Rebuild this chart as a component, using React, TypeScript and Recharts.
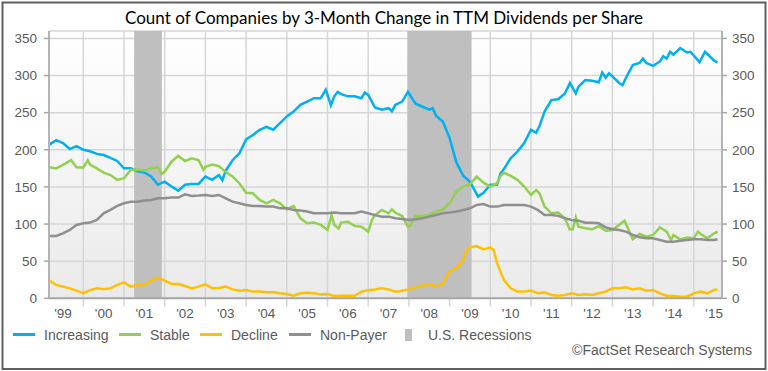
import React from 'react';
import { LineChart, Line, XAxis, YAxis, CartesianGrid, ReferenceArea, ReferenceLine } from 'recharts';

// Months counted from Jan 1999 (0 = Jan 1999), value = count of companies
const increasing: [number, number][] = [
  [2, 207], [4, 213], [6, 209], [8, 201], [10, 205], [12, 200], [14, 198], [16, 194.5], [18, 193], [20, 189],
  [22, 185], [24, 175], [26, 175], [28, 171], [30, 169.5], [32, 164], [34, 153], [36, 157], [38, 150.5], [40, 145],
  [42, 153], [44, 154], [46, 154], [48, 164], [50, 159.5], [52, 166], [53, 159], [54, 172], [56, 186], [58, 195],
  [60, 214], [62, 220], [64, 227], [66, 231], [68, 227], [70, 236], [72, 245], [74, 251.5], [76, 260.5], [78, 265],
  [80, 269.5], [82, 269.5], [83.5, 281], [85, 260], [86, 272], [87, 278], [88, 275], [90, 272], [92, 272], [94, 269.5],
  [95, 277], [96, 274], [98, 257], [100, 254], [102, 256], [103, 252], [104, 260.5], [106, 265], [107.7, 278], [110, 262],
  [112, 258], [114, 254], [115, 256], [116, 246], [118, 238], [120, 216], [122, 183], [124, 165], [126, 157], [128.4, 137],
  [130, 142], [132, 153], [134, 153], [135, 168], [136, 174], [138, 188.6], [140, 197.6], [142, 209], [144, 227], [145.5, 223],
  [146.5, 232], [148, 251.5], [150, 267], [152, 268], [154, 276], [155.5, 290], [157.2, 276], [158, 285], [160, 294], [162, 293],
  [164, 291], [165, 304], [166, 297], [167, 303], [168, 299], [170, 290], [171, 287], [172, 297], [174, 314], [176, 317],
  [177, 323], [178, 317], [180, 313], [182, 319], [183, 326], [184, 323], [185, 332], [186, 328], [188, 337], [190, 331],
  [191, 332], [192, 327], [193.7, 318], [195.3, 332], [196, 329], [198, 320], [199, 317.6],
];

const stable: [number, number][] = [
  [2, 176.5], [4, 175], [6, 179.6], [8.4, 186], [10, 176.5], [12, 176], [13.3, 186], [14, 180], [16, 175], [18, 169.3],
  [20, 166], [22, 159.5], [24, 161.7], [26, 173], [28, 173], [30, 172], [32, 175], [34, 176.5], [35.1, 167.5], [36, 170.6],
  [38, 184], [40, 191.8], [42, 184.9], [44, 188.6], [46, 186], [47.4, 173], [48, 177], [50, 180], [52, 178], [54, 170],
  [56, 164], [58, 155], [60, 142], [62, 141.4], [64, 132.5], [66, 128], [68, 132.5], [70, 128], [72, 119.8], [74, 124.4],
  [76, 107.7], [78, 101], [80, 102], [82, 98.8], [84, 92], [85.2, 112], [86, 98.8], [87.3, 94], [88, 102], [90, 103],
  [92, 97.5], [94, 96.5], [96, 89.8], [97.1, 105.5], [98, 112], [100, 119], [102, 114.5], [103, 119.8], [104, 115.4], [106, 111],
  [107.7, 96.5], [108.3, 97.5], [110, 111], [112, 111], [114, 112.3], [116, 116.8], [118, 119.8], [120, 128], [122, 143.7], [124, 150.5],
  [126, 153.6], [128, 163.9], [130, 155.8], [132, 150.5], [134, 155], [135, 164.8], [136, 169.3], [138, 164.8], [140, 159.5], [142, 150.5],
  [144, 139.2], [145.5, 146], [146.5, 141.4], [148, 123.5], [150, 114.5], [152, 115.4], [154, 107.7], [155.4, 92.9], [156.3, 92.9], [157.2, 109],
  [158, 96.5], [160, 94.3], [162, 92.9], [164, 97], [166, 91.1], [168, 92], [170, 99], [171.6, 104.6], [172.5, 95], [174, 79.4],
  [176, 86.6], [178, 83], [180, 85.3], [182, 95.6], [184, 89.8], [185.3, 78.5], [186, 85.3], [188, 79.4], [190, 82], [192, 80.8],
  [193.2, 89.8], [194, 86.6], [196, 80.8], [198, 87.5], [199, 89.8],
];

const decline: [number, number][] = [
  [2, 23.8], [4, 18], [6, 15.7], [8, 13.4], [10, 10.3], [12, 7], [14, 11], [16, 13.4], [18, 12.1], [20, 13.4],
  [22, 18], [24, 21.5], [26, 15.7], [28, 18], [30, 18], [32, 23.8], [34, 27.8], [36, 23.8], [38, 19.3], [40, 19.3],
  [42, 16.6], [44, 13.4], [46, 15.7], [48, 18.8], [50, 13.4], [52, 14], [54, 15.7], [56, 12], [58, 10.3], [60, 11.2],
  [62, 9], [64, 9], [66, 8], [68, 8], [70, 6.7], [72, 5.8], [74, 3.5], [76, 6.7], [78, 7.6], [80, 6.7],
  [82, 5.3], [84, 5.8], [86, 3.1], [88, 3.5], [90, 3.5], [92, 3.5], [94, 9], [96, 11], [98, 12], [100, 13.4],
  [102, 12], [104, 9], [106, 10.3], [108, 12], [110, 14.7], [112, 16.6], [114, 19.3], [116, 15.7], [118, 20.2], [120, 35.9],
  [122, 40.4], [124, 51.6], [125, 65], [126, 68.6], [128, 70.4], [130, 65.9], [132, 68.6], [133, 65], [134, 47], [136, 24.7],
  [138, 13.4], [140, 9], [142, 9], [144, 10.3], [146, 6.7], [148, 8], [150, 4.4], [152, 3.5], [154, 4.4], [156, 6.7],
  [158, 4.4], [160, 5.3], [162, 4.4], [164, 6.7], [166, 9], [168, 13.4], [170, 13.4], [172, 14.7], [174, 12], [176, 13.4],
  [178, 10.3], [180, 11.2], [182, 6.7], [184, 3.5], [186, 3.1], [188, 2.2], [190, 2.2], [192, 6.7], [194, 9], [196, 6.7],
  [198, 11.2], [199, 12],
];

const nonPayer: [number, number][] = [
  [2, 84], [4, 84], [6, 87.5], [8, 92], [10, 98.8], [12, 101], [14, 102], [16, 105.5], [18, 114.5], [20, 119],
  [22, 124.4], [24, 128], [26, 130], [28, 130], [30, 131.6], [32, 132.5], [34, 134.7], [36, 134.7], [38, 135.6], [40, 135.6],
  [42, 140], [44, 137.9], [46, 138.4], [48, 139.2], [50, 137.9], [52, 139.2], [54, 134.7], [56, 130.2], [58, 128], [60, 125.7],
  [62, 124.4], [64, 124.4], [66, 123.5], [68, 123.5], [70, 121.2], [72, 121.2], [74, 119], [76, 118.1], [78, 116.8], [80, 114.5],
  [82, 114.5], [84, 114.5], [86, 115.4], [88, 114.5], [90, 114.5], [92, 114.5], [94, 116.8], [96, 114.5], [98, 112], [100, 110],
  [102, 110], [104, 107.7], [106, 106.8], [108, 105.5], [110, 106.4], [112, 107.7], [114, 110], [116, 112.3], [118, 114.5], [120, 115.4],
  [122, 116.8], [124, 119], [126, 121.2], [128, 125.7], [130, 127], [132, 123.5], [134, 123.5], [136, 125.7], [138, 125.7], [140, 125.7],
  [142, 125.7], [144, 123.5], [146, 119], [148, 112.3], [150, 112.3], [152, 111], [154, 107.7], [156, 105.5], [158, 104.6], [160, 101.9],
  [162, 101.9], [164, 101], [166, 95.6], [168, 92.9], [170, 92], [172, 89.8], [174, 85.3], [176, 82.2], [178, 80.8], [180, 80.8],
  [182, 78.5], [184, 76.3], [186, 76.3], [188, 77.6], [190, 78.5], [192, 79.4], [194, 79.4], [196, 78.5], [198, 78.5], [199, 79.4],
];

const yearLabels = ["'99", "'00", "'01", "'02", "'03", "'04", "'05", "'06", "'07", "'08", "'09", "'10", "'11", "'12", "'13", "'14", "'15"];
const labelYears = [1999.5, 2000.5, 2001.5, 2002.5, 2003.5, 2004.5, 2005.5, 2006.5, 2007.5, 2008.5, 2009.5, 2010.5, 2011.5, 2012.5, 2013.5, 2014.5, 2015.5];
const gridYears = [2000, 2001, 2002, 2003, 2004, 2005, 2006, 2007, 2008, 2009, 2010, 2011, 2012, 2013, 2014, 2015];
const yTicks = [0, 50, 100, 150, 200, 250, 300, 350];
const recessions: [number, number][] = [[2001.25, 2001.93], [2007.96, 2009.54]];

const START_YEAR = 1999;
const toPoints = (pairs: [number, number][]) => pairs.map(([m, v]) => ({ t: START_YEAR + m / 12, v }));

const FONT = '"Liberation Sans", Arial, sans-serif';
const LABEL = '#595959';
const GRID = '#d6d6d6';
const AXIS = '#a6a6a6';

const series = [
  { name: 'Increasing', color: '#00b0f0', data: toPoints(increasing) },
  { name: 'Stable', color: '#92d050', data: toPoints(stable) },
  { name: 'Decline', color: '#ffc000', data: toPoints(decline) },
  { name: 'Non-Payer', color: '#8f8f8f', data: toPoints(nonPayer) },
];

const XTick = (props: any) => {
  const { x, y, index } = props;
  return (
    <text x={x} y={y + 20} textAnchor="middle" fontFamily={FONT} fontSize={13.5} fill={LABEL}>
      {yearLabels[index]}
    </text>
  );
};

const legendItems = [
  { label: 'Increasing', color: '#00b0f0', x1: 13, tx: 44 },
  { label: 'Stable', color: '#92d050', x1: 119, tx: 150 },
  { label: 'Decline', color: '#ffc000', x1: 200, tx: 231 },
  { label: 'Non-Payer', color: '#8f8f8f', x1: 289, tx: 320 },
];

export default function App() {
  return (
    <div style={{ position: 'absolute', left: 0, top: 0, width: 768, height: 371, background: '#ffffff' }}>
      <LineChart width={768} height={371} margin={{ top: 31, right: 0, bottom: 42.7, left: 0 }}>
        <defs>
          <linearGradient id="plotBg" x1="0" y1="0" x2="0" y2="1">
            <stop offset="0%" stopColor="#ffffff" />
            <stop offset="100%" stopColor="#eaeaea" />
          </linearGradient>
        </defs>
        <CartesianGrid vertical={false} stroke={GRID} strokeWidth={1.5} fill="url(#plotBg)" fillOpacity={1} />
        <XAxis
          type="number"
          dataKey="t"
          domain={[1999.157, 2015.693]}
          allowDataOverflow
          ticks={labelYears}
          interval={0}
          tick={<XTick />}
          tickLine={false}
          tickSize={0}
          tickMargin={0}
          height={30}
          axisLine={{ stroke: AXIS, strokeWidth: 2 }}
        />
        <YAxis
          type="number"
          domain={[0, 360]}
          ticks={yTicks}
          width={49}
          tickSize={5}
          tickMargin={7}
          tick={{ fontFamily: FONT, fontSize: 13.5, fill: LABEL }}
          tickLine={{ stroke: AXIS, strokeWidth: 1.5 }}
          axisLine={{ stroke: '#b4b4b4', strokeWidth: 2 }}
          allowDataOverflow
        />
        <YAxis
          yAxisId="right"
          orientation="right"
          type="number"
          domain={[0, 360]}
          ticks={yTicks}
          width={46}
          tickSize={5}
          tickMargin={5}
          tick={{ fontFamily: FONT, fontSize: 13.5, fill: LABEL }}
          tickLine={{ stroke: AXIS, strokeWidth: 1.5 }}
          axisLine={{ stroke: '#b4b4b4', strokeWidth: 2 }}
          allowDataOverflow
        />
        {gridYears.map((yr) => (
          <ReferenceLine
            key={yr}
            segment={[{ x: yr, y: -11 }, { x: yr, y: 360 }]}
            ifOverflow="visible"
            stroke={GRID}
            strokeWidth={1.5}
            zIndex={-90}
          />
        ))}
        {recessions.map(([a, b], i) => (
          <ReferenceArea key={i} x1={a} x2={b} y1={0} y2={360} fill="#bfbfbf" fillOpacity={1} stroke="none" zIndex={-80} />
        ))}
        {series.map((s) => (
          <Line
            key={s.name}
            data={s.data}
            dataKey="v"
            name={s.name}
            type="linear"
            stroke={s.color}
            strokeWidth={2.5}
            dot={false}
            activeDot={false}
            isAnimationActive={false}
          />
        ))}
      </LineChart>
      <svg width={768} height={371} style={{ position: 'absolute', left: 0, top: 0, pointerEvents: 'none' }}>
        <rect x={2.5} y={2.5} width={763} height={366.5} fill="none" stroke="#606060" strokeWidth={2} />
        <text
          x={384}
          y={24}
          textAnchor="middle"
          fontFamily='Lato, "Noto Sans", sans-serif'
          fontSize={16.5}
          fill="#000000"
          textLength={518}
          lengthAdjust="spacingAndGlyphs"
        >
          Count of Companies by 3-Month Change in TTM Dividends per Share
        </text>
        {legendItems.map((it) => (
          <g key={it.label}>
            <line x1={it.x1} x2={it.x1 + 22} y1={334.5} y2={334.5} stroke={it.color} strokeWidth={3} />
            <text x={it.tx} y={339.5} fontFamily={FONT} fontSize={14} fill={LABEL}>
              {it.label}
            </text>
          </g>
        ))}
        <rect x={405} y={329} width={7} height={12} fill="#bfbfbf" />
        <text x={428} y={339.5} fontFamily={FONT} fontSize={14} fill={LABEL}>
          U.S. Recessions
        </text>
        <text x={752} y={355} textAnchor="end" fontFamily={FONT} fontSize={14} fill={LABEL}>
          ©FactSet Research Systems
        </text>
      </svg>
    </div>
  );
}
